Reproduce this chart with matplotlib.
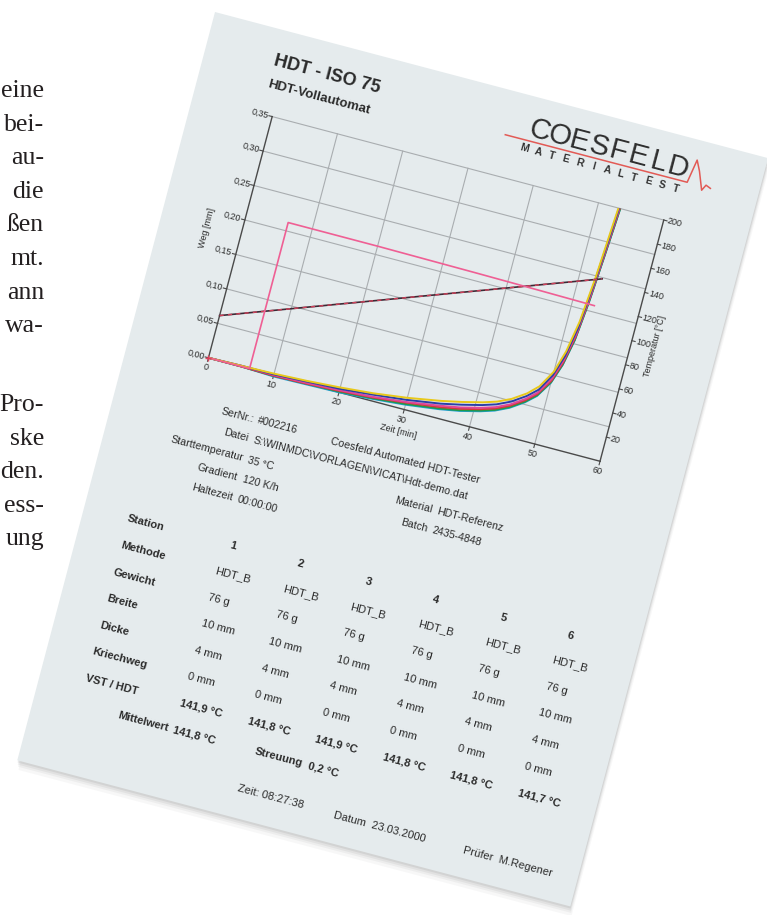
import numpy as np
import matplotlib.pyplot as plt
from matplotlib.transforms import Affine2D
from matplotlib.patches import Polygon

# ---------------- data ----------------
zeit = [0, 5, 10, 15, 20, 25, 30, 35, 38, 41, 43, 45, 47, 48.5, 50, 51, 51.8, 52.4, 52.9, 53.4]
weg_gelb    = [0, .001, .002, .004, .007, .011, .017, .025, .031, .038, .044, .053, .066, .080, .105, .137, .182, .245, .325, .40]
weg_blau    = [0, .001, .001, .003, .005, .009, .014, .021, .027, .034, .040, .049, .062, .075, .100, .130, .172, .235, .310, .39]
weg_magenta = [0, .001, .000, .001, .003, .006, .011, .018, .023, .030, .036, .045, .058, .071, .095, .125, .165, .225, .300, .38]
weg_rot     = [0, .000, -.001, .000, .002, .005, .010, .016, .021, .028, .034, .043, .056, .069, .092, .121, .160, .220, .292, .37]
weg_gruen   = [0, .000, -.001, .000, .001, .004, .008, .014, .019, .026, .032, .041, .054, .067, .090, .118, .156, .214, .285, .36]
weg_cyan    = [0, .000, -.002, -.001, .000, .003, .007, .013, .018, .025, .031, .040, .053, .066, .089, .117, .155, .212, .283, .36]
station_kurven = [weg_cyan, weg_gruen, weg_rot, weg_magenta, weg_blau, weg_gelb]
station_farben = ['#1f9fd6', '#1f9a4a', '#d23a3a', '#e0479a', '#2a3fa8', '#e8c81a']

temp_zeit = [0, 53.4]
temp_werte = [35, 141.8]

grenz_zeit = [0, 6.3, 6.3, 20, 35, 45, 53.3]
grenz_weg = [0, 0, 0.212, 0.212, 0.211, 0.210, 0.209]

zeit_ticks = [0, 10, 20, 30, 40, 50, 60]
weg_ticks = [0, 0.05, 0.10, 0.15, 0.20, 0.25, 0.30, 0.35]
temp_ticks = [20, 40, 60, 80, 100, 120, 140, 160, 180, 200]

stationen = ['1', '2', '3', '4', '5', '6']
methode = ['HDT_B'] * 6
gewicht = ['76 g'] * 6
breite = ['10 mm'] * 6
dicke = ['4 mm'] * 6
kriechweg = ['0 mm'] * 6
vst_hdt = [141.9, 141.8, 141.9, 141.8, 141.8, 141.7]
mittelwert = 141.8
streuung = 0.2
zeilen = ['Station', 'Methode', 'Gewicht', 'Breite', 'Dicke', 'Kriechweg', 'VST / HDT']

kopf_links = [('SerNr.:', '#002216'), ('Datei', 'S:\\WINMDC\\VORLAGEN\\VICAT\\Hdt-demo.dat'),
              ('Starttemperatur', '35 °C'), ('Gradient', '120 K/h'), ('Haltezeit', '00:00:00')]
kopf_rechts = [('Material', 'HDT-Referenz'), ('Batch', '2435-4848')]

spalte_text = ['eine', 'bei-', 'au-', 'die', 'ßen', 'mt.', 'ann', 'wa-', '',
               'Pro-', 'ske', 'den.', 'ess-', 'ung']

# ---------------- figure ----------------
W, H = 767, 915
fig = plt.figure(figsize=(W / 100, H / 100), dpi=100)
ax = fig.add_axes([0, 0, 1, 1])
ax.set_xlim(0, W)
ax.set_ylim(H, 0)
ax.axis('off')
fig.patch.set_facecolor('white')

INK = '#2a2a2a'
SANS = ['Liberation Sans', 'DejaVu Sans']

# page coordinates (u right, v down) -> picture
page = Affine2D().rotate_deg(14.8).translate(215, 12) + ax.transData
PW, PH = 572, 774

def fmt(v, nd=1):
    return f'{v:.{nd}f}'.replace('.', ',')

def put(s, u, v, size=8, weight='normal', ha='left', va='baseline', rot=0, tr=None, color=INK, family=SANS):
    ax.text(u, v, s, transform=tr if tr is not None else page, fontsize=size, fontweight=weight,
            ha=ha, va=va, rotation=rot, rotation_mode='anchor', transform_rotates_text=True,
            color=color, family=family, zorder=6)

# text column left of the sheet
for i, s in enumerate(spalte_text):
    y = 97 + 33.6 * i if i < 9 else 411 + 33.6 * (i - 9)
    ax.text(44, y, s, fontsize=18.5, family=['Liberation Serif', 'DejaVu Serif'], color='#231f20',
            ha='right', va='baseline')

# sheet with a soft shadow
ecken = [(0, 0), (PW, 0), (PW, PH), (0, PH)]
for k, a in zip([9, 6, 4, 2], [0.05, 0.07, 0.09, 0.12]):
    ax.add_patch(Polygon([(x + k * 0.4, y + k) for x, y in ecken], closed=True,
                         transform=page, facecolor='#6b6f72', edgecolor='none', alpha=a, zorder=1))
ax.add_patch(Polygon(ecken, closed=True, transform=page, facecolor='#e5ebed', edgecolor='none', zorder=2))

# title
put('HDT - ISO 75', 70, 36, size=13, weight='bold')
put('HDT-Vollautomat', 70, 59, size=9.5, weight='bold')

# logo
for i, ch in enumerate('COESFELD'):
    put(ch, 344 + i * 20.5, 40, size=21, ha='center', color='#2e2e2e', family=SANS)
for i, ch in enumerate('MATERIALTEST'):
    put(ch, 334 + i * 14.2, 56, size=7.5, ha='center', weight='bold', color='#333333')
logo_u = [312, 500, 504, 509, 516, 519, 524]
logo_v = [44.5, 44, 20, 30, 48, 42, 44]
ax.plot(logo_u, logo_v, transform=page, color='#e25a55', lw=1.1, zorder=5)

# ---------------- chart ----------------
CU0, CV0, CW, CH = 82, 336, 405, 249.5
chart = Affine2D().scale(CW / 60, -CH / 0.35).translate(CU0, CV0) + page
tchart = Affine2D().scale(CW / 60, -CH / 200).translate(CU0, CV0) + page
GRID = '#a9adb0'
AXC = '#4a4a4a'

for w in weg_ticks[1:]:
    ax.plot([0, 60], [w, w], transform=chart, color=GRID, lw=0.8, zorder=3)
for t in zeit_ticks[1:-1]:
    ax.plot([t, t], [0, 0.35], transform=chart, color=GRID, lw=0.8, zorder=3)
ax.plot([0, 0], [0, 0.35], transform=chart, color=AXC, lw=1.0, zorder=4)
ax.plot([0, 60], [0, 0], transform=chart, color=AXC, lw=1.0, zorder=4)
ax.plot([60, 60], [0, 0.35], transform=chart, color=AXC, lw=1.0, zorder=4)

for w in weg_ticks:
    ax.plot([-0.5, 0], [w, w], transform=chart, color=AXC, lw=0.8, zorder=4)
    put(fmt(w, 2), -0.6, w, size=6.5, ha='right', va='center', tr=chart)
for T in temp_ticks:
    ax.plot([60, 60.5], [T, T], transform=tchart, color=AXC, lw=0.8, zorder=4)
    put(str(T), 60.6, T, size=6.5, ha='left', va='center', tr=tchart)
for t in zeit_ticks:
    ax.plot([t, t], [0, -0.005], transform=chart, color=AXC, lw=0.8, zorder=4)
    put(str(t), t, -0.008, size=6.5, ha='center', va='top', tr=chart)

put('Weg [mm]', 47, 211, size=6.5, ha='center', va='center', rot=-90)
put('Temperatur [°C]', 511, 211, size=6.5, ha='center', va='center', rot=-90)
put('Zeit [min]', 284, 359, size=6.5, ha='center', va='center')

feld = Polygon([(0, -0.02), (61, -0.02), (61, 0.35), (0, 0.35)], closed=True, transform=chart)
for kurve, farbe in zip(station_kurven, station_farben):
    ln, = ax.plot(zeit, kurve, transform=chart, color=farbe, lw=1.4, zorder=5)
    ln.set_clip_path(feld)
ax.plot(temp_zeit, temp_werte, transform=tchart, color='#3c2a35', lw=1.2, zorder=5)
ax.plot(temp_zeit, temp_werte, transform=tchart, color='#d0405a', lw=1.0, ls=(0, (3, 3)), zorder=5)
ax.plot(grenz_zeit, grenz_weg, transform=chart, color='#ef5f94', lw=1.2, zorder=5)
ax.plot([0], [0], transform=chart, marker='+', ms=5, mew=1.0, color='#e0405a', zorder=6)

# ---------------- header block ----------------
for i, (lab, val) in enumerate(kopf_links):
    v = 387 + 20.2 * i
    put(lab, 141, v, size=7.7, ha='right')
    put(val, 146, v, size=7.7)
put('Coesfeld Automated HDT-Tester', 221, 388, size=7.7)
for i, (lab, val) in enumerate(kopf_rechts):
    v = 428.5 + 20.2 * i
    put(lab, 337, v, size=7.7, ha='right')
    put(val, 342, v, size=7.7)

# ---------------- table ----------------
row_v = [515 + 27.5 * r for r in range(8)]
col_u = [143 + 69.8 * c for c in range(6)]
for r, lab in enumerate(zeilen):
    put(lab, 45, row_v[r], size=8, weight='bold')
werte = [methode, gewicht, breite, dicke, kriechweg]
for c in range(6):
    put(stationen[c], col_u[c] + 8, row_v[0], size=8, weight='bold')
    for r, reihe in enumerate(werte):
        put(reihe[c], col_u[c], row_v[r + 1], size=8)
    put(fmt(vst_hdt[c]) + ' °C', col_u[c], row_v[6], size=8, weight='bold')
put('Mittelwert', 138, row_v[7], size=8, weight='bold', ha='right')
put(fmt(mittelwert) + ' °C', col_u[0], row_v[7], size=8, weight='bold')
put('Streuung', 277, row_v[7], size=8, weight='bold', ha='right')
put(fmt(streuung) + ' °C', col_u[2], row_v[7], size=8, weight='bold')

put('Zeit: 08:27:38', 220, 748, size=8)
put('Datum  23.03.2000', 320, 749, size=8)
put('Prüfer  M.Regener', 454, 750, size=8)

fig.savefig('out.png', dpi=100, facecolor='white')
